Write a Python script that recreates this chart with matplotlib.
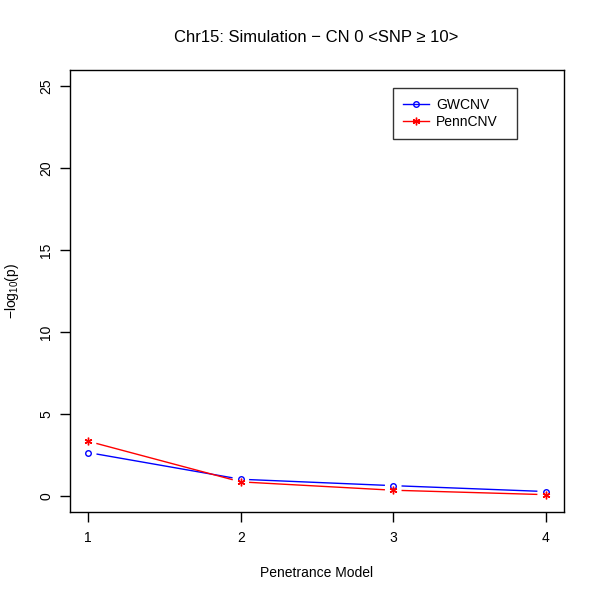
import numpy as np
import matplotlib
matplotlib.use("Agg")
import matplotlib.pyplot as plt
from matplotlib.lines import Line2D

plt.rcParams['font.family'] = ['Liberation Sans', 'DejaVu Sans']

# values
models = [1, 2, 3, 4]
gwcnv = [2.63, 1.00, 0.61, 0.25]
penncnv = [3.32, 0.84, 0.33, 0.06]
yticks = [0, 5, 10, 15, 20, 25]


def plot_type_b(ax, x, y, color, marker, ms, gap=9):
    # R type="b": markers plus line segments that stop short of each point
    pts = ax.transData.transform(np.column_stack([x, y]))
    inv = ax.transData.inverted()
    for p0, p1 in zip(pts[:-1], pts[1:]):
        d = p1 - p0
        L = np.hypot(*d)
        if L <= 2 * gap:
            continue
        u = d / L
        a = inv.transform(p0 + u * gap)
        b = inv.transform(p1 - u * gap)
        ax.plot([a[0], b[0]], [a[1], b[1]], color=color, lw=1)
    ax.plot(x, y, ls='none', marker=marker, color=color, ms=ms,
            mfc='none' if marker == 'o' else color, mew=1)


fig = plt.figure(figsize=(6, 6), dpi=100)
ax = fig.add_axes([70 / 600, 88 / 600, 494 / 600, 442 / 600])
ax.set_xlim(0.88, 4.12)
ax.set_ylim(-1, 26)
fig.canvas.draw()

plot_type_b(ax, models, gwcnv, 'blue', 'o', 4)
plot_type_b(ax, models, penncnv, 'red', (6, 2, 0), 5.5)

ax.set_xticks(models)
ax.set_yticks(yticks)
ax.set_yticklabels([str(v) for v in yticks], rotation=90, va='center')
ax.tick_params(direction='out', length=7, width=1, labelsize=10)
ax.tick_params(axis='x', pad=7)
ax.tick_params(axis='y', pad=5)
for s in ax.spines.values():
    s.set_linewidth(1)

ax.set_xlabel('Penetrance Model', fontsize=10, va='center')
ax.xaxis.set_label_coords(0.5, (512 - 573) / 442)
ax.set_ylabel(r'$\mathregular{-log_{10}(p)}$', fontsize=10, va='center')
ax.yaxis.set_label_coords((12 - 70) / 494, 0.5)
fig.text(316 / 600, 1 - 38 / 600, 'Chr15: Simulation \u2212 CN 0 <SNP \u2265 10>',
         fontsize=12, ha='center', va='center')

handles = [
    Line2D([], [], color='blue', marker='o', mfc='none', ms=4, lw=1),
    Line2D([], [], color='red', marker=(6, 2, 0), ms=5.5, lw=1),
]
x0 = (393 - 70) / 494
w = (517 - 393) / 494
y1 = (512 - 88) / 442
h = (139 - 88) / 442
leg = ax.legend(handles, ['GWCNV', 'PennCNV'], loc='upper left',
                bbox_to_anchor=(x0, y1 - h, w, h), mode='expand',
                fontsize=10, frameon=True, fancybox=False, handlelength=1.9,
                borderpad=0.7, labelspacing=0.25, handletextpad=0.5,
                borderaxespad=0)
leg.get_frame().set_edgecolor('black')
leg.get_frame().set_linewidth(1)

fig.savefig('out.png', dpi=100)
